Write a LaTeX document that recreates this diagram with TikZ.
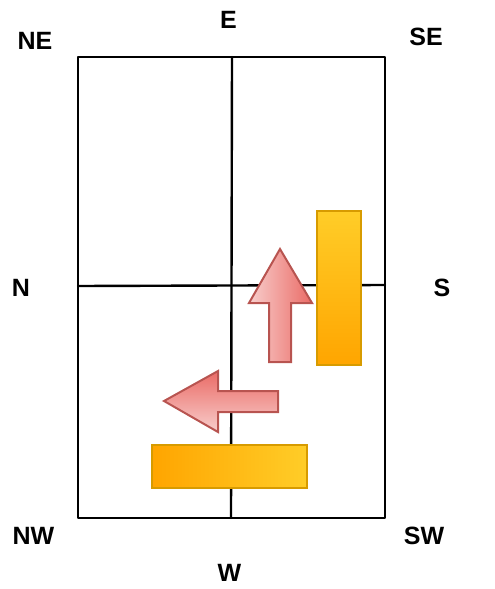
\documentclass[tikz,border=0pt]{standalone}
\usepackage{fontspec}
\setmainfont{Liberation Sans}
\usepackage{tikz}
\usetikzlibrary{arrows.meta, positioning}

\definecolor{barline}{HTML}{D79B00}
\definecolor{barlight}{HTML}{FFCD28}
\definecolor{bardark}{HTML}{FFA500}
\definecolor{arrline}{HTML}{B85450}
\definecolor{arrlight}{HTML}{F8CECC}
\definecolor{arrdark}{HTML}{EA6B66}

\tikzset{
  dirlabel/.style={font=\bfseries\fontsize{25}{30}\selectfont, inner sep=0pt},
  gridline/.style={line width=2.4pt, line join=round, line cap=round},
  barbox/.style={draw=barline, line width=1.6pt},
  fatarrow/.style={draw=arrline, line width=2pt, line join=miter}
}

\begin{document}
\begin{tikzpicture}[x=1pt, y=-1pt]
\useasboundingbox (0,0) rectangle (495,589);

% Grid of the compass
\draw[gridline] (78,57) rectangle (385,518);  % Outer box
\draw[gridline] (232,57) -- (231,518);        % Vertical split
\draw[gridline] (78,286) -- (385,285);        % Horizontal split

% Labels for directions
\node[dirlabel] (ne) at (35,41)    {NE};
\node[dirlabel] (e)  at (228.5,20) {E};
\node[dirlabel] (se) at (426,37)   {SE};
\node[dirlabel] (n)  at (21,288)   {N};
\node[dirlabel] (s)  at (442,288)  {S};
\node[dirlabel] (nw) at (33.5,536) {NW};
\node[dirlabel] (w)  at (229.5,573) {W};
\node[dirlabel] (sw) at (424,536)  {SW};

% Bars
\draw[barbox, top color=barlight, bottom color=bardark] (317,211) rectangle (361,365);  % Vertical bar
\draw[barbox, left color=bardark, right color=barlight] (152,445) rectangle (307,488);  % Horizontal bar

% Arrows
\draw[fatarrow, left color=arrlight, right color=arrdark]
  (280,249) -- (312,303) -- (291,303) -- (291,362) -- (269,362) -- (269,303) -- (249,303) -- cycle;  % Up arrow
\draw[fatarrow, top color=arrdark, bottom color=arrlight]
  (164,401) -- (218,371) -- (218,391) -- (278,391) -- (278,412) -- (218,412) -- (218,432) -- cycle;  % Left arrow

\end{tikzpicture}
\end{document}
